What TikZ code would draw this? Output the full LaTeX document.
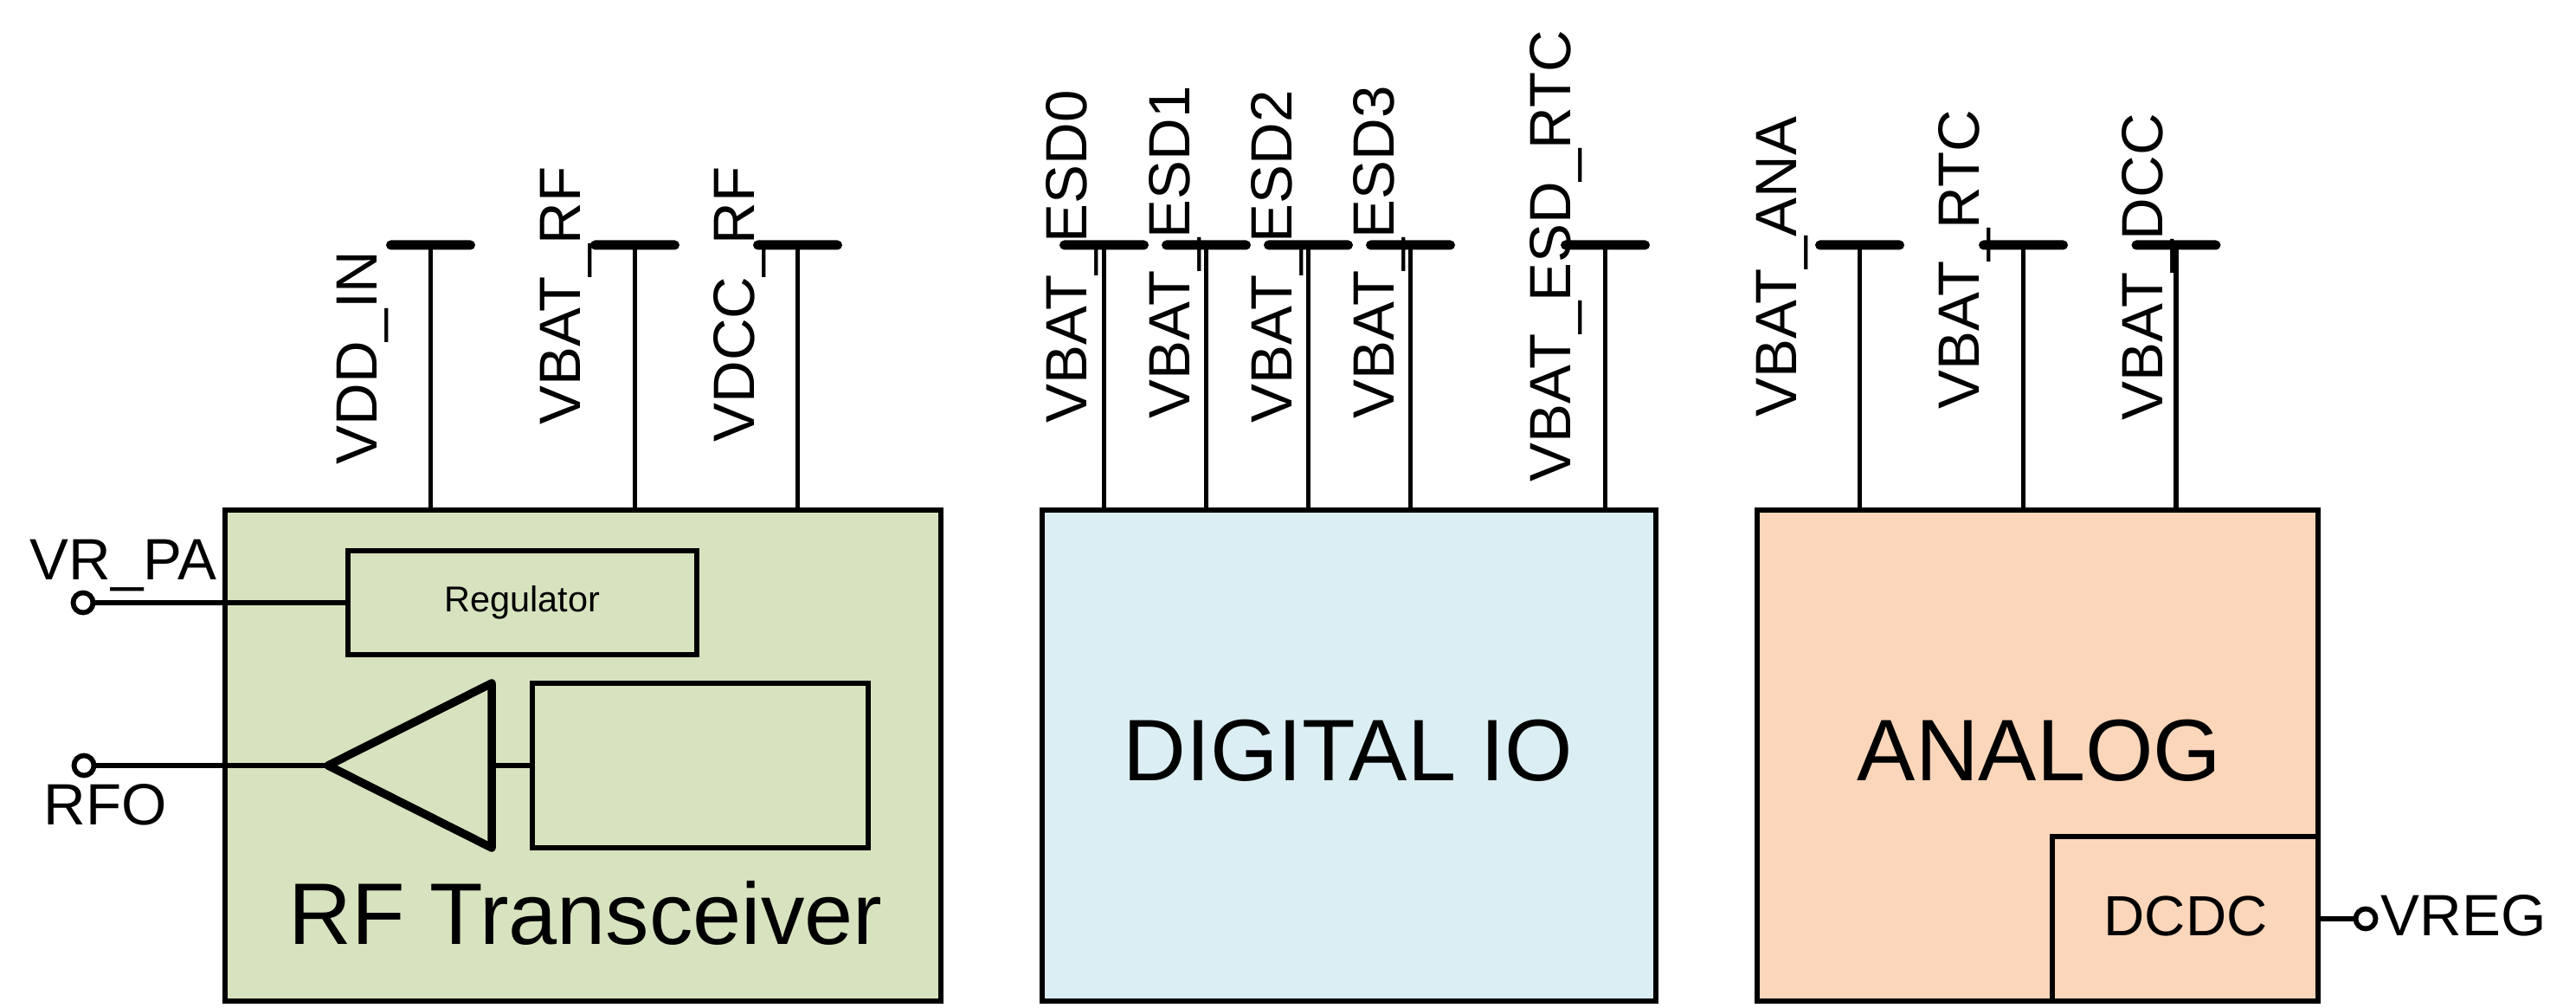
\documentclass[tikz,border=0pt]{standalone}
\usepackage{xcolor}
\usepackage{fontspec}
\setmainfont{Liberation Sans}
\definecolor{rfgreen}{HTML}{D7E3BF}
\definecolor{ioblue}{HTML}{DAEEF3}
\definecolor{anaorange}{HTML}{FBD6BA}
\tikzset{
    block/.style={draw,line width=0.062cm,inner sep=0,outer sep=0,anchor=south west},
    subblock/.style={draw,line width=0.056cm,inner sep=0,outer sep=0},
    railbar/.style={fill=black,rounded corners=0.055cm,minimum width=1.03cm,minimum height=0.11cm,inner sep=0,outer sep=0},
    wire/.style={line width=0.056cm},
    pad/.style={circle,draw,fill=white,line width=0.058cm,minimum size=0.23cm,inner sep=0},
    pinlabel/.style={inner sep=0,anchor=base west,font=\fontsize{19.15}{21}\selectfont},
    vlabel/.style={pinlabel,rotate=90},
    biglabel/.style={inner sep=0,anchor=base,font=\fontsize{28.7}{31}\selectfont}
}
\begin{document}
\begin{tikzpicture}
    \useasboundingbox (0,0) rectangle (29.76,11.64);
    \node[block,fill=rfgreen,minimum width=8.27cm,minimum height=5.67cm] (rf) at (2.60,0.08) {};
    \node[block,fill=ioblue,minimum width=7.09cm,minimum height=5.67cm] (io) at (12.04,0.08) {};
    \node[block,fill=anaorange,minimum width=6.48cm,minimum height=5.67cm] (ana) at (20.30,0.08) {};
    \node[block,fill=anaorange,minimum width=3.07cm,minimum height=1.90cm] (dcdc) at (23.71,0.08) {};
    \node[subblock,minimum width=4.03cm,minimum height=1.20cm,font=\fontsize{11.8}{13}\selectfont] (regulator) at (6.035,4.68) {Regulator};
    \node[subblock,minimum width=3.88cm,minimum height=1.90cm] (pabox) at (8.09,2.80) {};
    \coordinate (amptip) at (3.79,2.80);
    \coordinate (amptop) at (5.68,3.75);
    \coordinate (ampbot) at (5.68,1.85);
    \coordinate (ampback) at (5.68,2.80);
    \draw[line width=0.095cm,line join=round] (amptip) -- (amptop) -- (ampbot) -- cycle;
    \draw[wire] (ampback) -- (pabox.west);
    \node[biglabel,anchor=base west] (rflabel) at (3.33,0.73) {RF Transceiver};
    \node[biglabel] (iolabel) at (15.57,2.62) {DIGITAL IO};
    \node[biglabel] (analabel) at (23.56,2.62) {ANALOG};
    \node[pinlabel,anchor=base,font=\fontsize{18.6}{20}\selectfont] (dcdclabel) at (25.25,0.83) {DCDC};
    \node[pad] (vrpa) at (0.96,4.68) {};
    \node[pad] (rfo) at (0.97,2.80) {};
    \node[pad] (vreg) at (27.33,1.03) {};
    \node[pinlabel] (vrpalabel) at (0.34,4.94) {VR\_PA};
    \node[pinlabel] (rfolabel) at (0.50,2.11) {RFO};
    \node[pinlabel] (vreglabel) at (27.50,0.83) {VREG};
    \draw[wire] (vrpa) -- (regulator.west);
    \draw[wire] (rfo) -- (amptip);
    \draw[wire] (dcdc.east) -- (vreg);
    \node[railbar] (vddin) at (4.975,8.81) {};
    \node[railbar] (vbatrf) at (7.335,8.81) {};
    \node[railbar] (vdccrf) at (9.215,8.81) {};
    \node[railbar] (esdzero) at (12.755,8.81) {};
    \node[railbar] (esdone) at (13.935,8.81) {};
    \node[railbar] (esdtwo) at (15.115,8.81) {};
    \node[railbar] (esdthree) at (16.295,8.81) {};
    \node[railbar] (esdrtc) at (18.545,8.81) {};
    \node[railbar] (vbatana) at (21.485,8.81) {};
    \node[railbar] (vbatrtc) at (23.375,8.81) {};
    \node[railbar] (vbatdcc) at (25.14,8.81) {};
    \draw[wire] (vddin.center) -- (vddin.center |- rf.north);
    \draw[wire] (vbatrf.center) -- (vbatrf.center |- rf.north);
    \draw[wire] (vdccrf.center) -- (vdccrf.center |- rf.north);
    \draw[wire] (esdzero.center) -- (esdzero.center |- io.north);
    \draw[wire] (esdone.center) -- (esdone.center |- io.north);
    \draw[wire] (esdtwo.center) -- (esdtwo.center |- io.north);
    \draw[wire] (esdthree.center) -- (esdthree.center |- io.north);
    \draw[wire] (esdrtc.center) -- (esdrtc.center |- io.north);
    \draw[wire] (vbatana.center) -- (vbatana.center |- ana.north);
    \draw[wire] (vbatrtc.center) -- (vbatrtc.center |- ana.north);
    \draw[wire] (vbatdcc.center) -- (vbatdcc.center |- ana.north);
    \node[vlabel] (vddinlabel) at (4.35,6.27) {VDD\_IN};
    \node[vlabel] (vbatrflabel) at (6.70,6.73) {VBAT\_RF};
    \node[vlabel] (vdccrflabel) at (8.71,6.53) {VDCC\_RF};
    \node[vlabel] (esdzerolabel) at (12.55,6.75) {VBAT\_ESD0};
    \node[vlabel] (esdonelabel) at (13.745,6.80) {VBAT\_ESD1};
    \node[vlabel] (esdtwolabel) at (14.925,6.75) {VBAT\_ESD2};
    \node[vlabel] (esdthreelabel) at (16.105,6.80) {VBAT\_ESD3};
    \node[vlabel] (esdrtclabel) at (18.145,6.07) {VBAT\_ESD\_RTC};
    \node[vlabel] (vbatanalabel) at (20.75,6.82) {VBAT\_ANA};
    \node[vlabel] (vbatrtclabel) at (22.86,6.91) {VBAT\_RTC};
    \node[vlabel] (vbatdcclabel) at (24.98,6.78) {VBAT\_DCC};
\end{tikzpicture}
\end{document}
